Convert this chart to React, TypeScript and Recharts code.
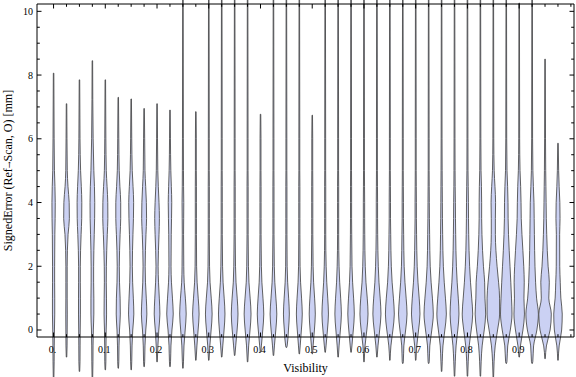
import { ComposedChart, Bar, XAxis, YAxis, Curve } from "recharts";

// violin positions (Visibility) and the range of each sample
const visibility = [
  0, 0.025, 0.05, 0.075, 0.1, 0.125, 0.15, 0.175, 0.2, 0.225,
  0.25, 0.275, 0.3, 0.325, 0.35, 0.375, 0.4, 0.425, 0.45, 0.475,
  0.5, 0.525, 0.55, 0.575, 0.6, 0.625, 0.65, 0.675, 0.7, 0.725,
  0.75, 0.775, 0.8, 0.825, 0.85, 0.875, 0.9, 0.925, 0.95, 0.975,
];

const errMin = [
  -1.6, -0.85, -1.3, -1.6, -1.25, -1.2, -1.25, -1.15, -1.0, -1.15,
  -1.2, -0.95, -0.95, -0.85, -0.8, -1.0, -0.7, -0.8, -0.55, -0.75,
  -0.75, -0.7, -0.85, -0.7, -1.0, -0.85, -0.95, -1.05, -0.95, -1.05,
  -1.3, -1.45, -1.45, -1.45, -1.5, -1.05, -0.85, -1.05, -0.9, -0.95,
];

const errMax = [
  8.06, 7.1, 7.85, 8.45, 7.85, 7.3, 7.25, 6.95, 7.1, 6.9,
  11, 6.85, 11, 11, 11, 11, 6.77, 11, 11, 11,
  6.74, 11, 11, 11, 11, 11, 11, 11, 11, 11,
  11, 11, 11, 11, 11, 11, 10.26, 11, 8.5, 5.86,
];

// density (violin half width) sampled at these error levels
const densityLevels = [-1, -0.5, 0, 0.5, 1, 1.5, 2, 3, 3.5, 4, 4.5, 5, 6];

const density = [
  [0.3, 0.4, 0.6, 0.9, 0.9, 0.8, 0.8, 1.0, 1.3, 1.4, 1.1, 0.6, 0.3],
  [0.2, 0.3, 0.4, 0.5, 0.4, 0.4, 0.4, 1.3, 2.6, 2.4, 1.2, 0.5, 0.2],
  [0.3, 0.4, 0.5, 0.7, 0.7, 0.6, 0.6, 1.4, 2.0, 2.1, 1.6, 0.9, 0.3],
  [0.3, 0.4, 0.7, 1.2, 1.2, 1.0, 1.0, 1.6, 2.0, 2.1, 1.8, 1.2, 0.5],
  [0.3, 0.4, 0.6, 1.0, 0.9, 0.7, 0.8, 1.7, 2.3, 2.2, 1.5, 0.7, 0.3],
  [0.3, 0.5, 1.0, 1.8, 1.6, 1.0, 0.8, 1.6, 2.2, 2.2, 1.4, 0.7, 0.3],
  [0.3, 0.6, 1.3, 2.4, 1.9, 1.2, 0.9, 1.5, 2.0, 2.2, 1.6, 0.8, 0.3],
  [0.3, 0.6, 1.4, 2.5, 1.9, 1.1, 0.8, 1.6, 2.2, 2.0, 1.3, 0.6, 0.3],
  [0.3, 0.6, 1.5, 2.6, 2.0, 1.2, 0.8, 1.7, 2.1, 1.7, 1.0, 0.5, 0.2],
  [0.3, 0.7, 1.7, 3.0, 2.2, 1.2, 0.8, 1.0, 1.3, 1.5, 1.1, 0.6, 0.2],
  [0.3, 0.8, 2.0, 3.0, 2.2, 1.0, 0.6, 0.4, 0.5, 0.6, 0.4, 0.3, 0.2],
  [0.3, 0.8, 2.0, 3.0, 2.1, 1.0, 0.5, 0.3, 0.3, 0.3, 0.3, 0.2, 0.2],
  [0.3, 0.8, 2.1, 3.1, 2.2, 1.0, 0.5, 0.3, 0.3, 0.3, 0.3, 0.2, 0.2],
  [0.3, 0.8, 2.1, 3.0, 2.2, 1.1, 0.6, 0.3, 0.3, 0.3, 0.3, 0.2, 0.2],
  [0.3, 0.8, 2.2, 3.1, 2.3, 1.1, 0.6, 0.3, 0.3, 0.3, 0.3, 0.2, 0.2],
  [0.3, 0.8, 2.2, 3.2, 2.3, 1.1, 0.6, 0.3, 0.3, 0.3, 0.3, 0.2, 0.2],
  [0.2, 0.6, 2.0, 3.0, 2.2, 1.1, 0.6, 0.3, 0.3, 0.3, 0.3, 0.2, 0.2],
  [0.2, 0.7, 2.1, 3.1, 2.2, 1.1, 0.6, 0.3, 0.3, 0.3, 0.3, 0.2, 0.2],
  [0.2, 0.5, 1.8, 2.7, 2.0, 1.0, 0.5, 0.3, 0.3, 0.3, 0.3, 0.2, 0.2],
  [0.2, 0.6, 1.8, 2.7, 2.0, 1.0, 0.5, 0.3, 0.3, 0.3, 0.3, 0.2, 0.2],
  [0.2, 0.6, 1.9, 2.8, 2.1, 1.1, 0.6, 0.3, 0.3, 0.3, 0.3, 0.2, 0.2],
  [0.2, 0.6, 2.0, 3.0, 2.3, 1.3, 0.7, 0.3, 0.3, 0.3, 0.3, 0.2, 0.2],
  [0.3, 0.7, 2.0, 3.0, 2.3, 1.3, 0.7, 0.3, 0.3, 0.3, 0.3, 0.2, 0.2],
  [0.2, 0.6, 2.0, 3.0, 2.3, 1.3, 0.7, 0.4, 0.3, 0.3, 0.3, 0.2, 0.2],
  [0.3, 0.8, 2.6, 3.8, 3.0, 1.7, 1.0, 0.5, 0.4, 0.4, 0.3, 0.2, 0.2],
  [0.3, 0.8, 2.5, 3.8, 3.0, 1.8, 1.1, 0.5, 0.4, 0.4, 0.3, 0.2, 0.2],
  [0.3, 0.8, 2.8, 4.2, 3.3, 2.0, 1.2, 0.6, 0.4, 0.4, 0.3, 0.2, 0.2],
  [0.3, 0.8, 2.6, 4.0, 3.1, 1.9, 1.1, 0.6, 0.4, 0.4, 0.3, 0.2, 0.2],
  [0.3, 0.8, 2.6, 4.0, 3.2, 2.0, 1.2, 0.6, 0.4, 0.4, 0.3, 0.2, 0.2],
  [0.3, 0.9, 2.9, 4.4, 3.5, 2.2, 1.3, 0.7, 0.5, 0.4, 0.3, 0.2, 0.2],
  [0.4, 1.1, 3.0, 4.5, 3.6, 2.4, 1.5, 0.8, 0.6, 0.5, 0.4, 0.3, 0.2],
  [0.5, 1.3, 3.0, 4.2, 3.5, 2.4, 1.6, 0.9, 0.7, 0.6, 0.4, 0.3, 0.2],
  [0.5, 1.5, 3.5, 5.0, 4.0, 2.8, 1.9, 1.0, 0.8, 0.7, 0.5, 0.3, 0.2],
  [0.5, 1.5, 3.6, 5.0, 4.3, 4.0, 2.8, 1.3, 1.0, 1.0, 0.8, 0.4, 0.2],
  [0.5, 1.6, 4.0, 6.0, 6.0, 5.0, 3.5, 1.8, 1.8, 2.0, 1.4, 0.6, 0.2],
  [0.4, 1.2, 3.8, 5.5, 5.0, 4.3, 3.5, 2.0, 1.6, 1.5, 1.1, 0.5, 0.2],
  [0.3, 1.0, 3.5, 5.0, 4.5, 4.8, 4.3, 2.5, 1.8, 1.6, 1.2, 0.6, 0.2],
  [0.4, 1.2, 4.5, 6.0, 4.2, 3.2, 2.6, 2.0, 1.8, 1.6, 1.0, 0.5, 0.2],
  [0.3, 1.1, 4.8, 6.0, 3.5, 4.0, 2.8, 1.4, 1.0, 0.8, 0.6, 0.4, 0.2],
  [0.3, 0.9, 3.4, 4.0, 2.6, 2.0, 1.5, 1.4, 1.8, 1.6, 0.9, 0.4, 0.2],
];

const xMajor = [0, 0.1, 0.2, 0.3, 0.4, 0.5, 0.6, 0.7, 0.8, 0.9];
const xMajorLabels = ["0.", "0.1", "0.2", "0.3", "0.4", "0.5", "0.6", "0.7", "0.8", "0.9"];
const xTicks = [...visibility, 1];
const yTicks = [0, 0.5, 1, 1.5, 2, 2.5, 3, 3.5, 4, 4.5, 5, 5.5, 6, 6.5, 7, 7.5, 8, 8.5, 9, 9.5, 10];
const yMajor = [0, 2, 4, 6, 8, 10];

const X_DOMAIN: [number, number] = [-0.032, 1.006];
const Y_DOMAIN: [number, number] = [-0.22, 10.23];
const FONT = "'Liberation Serif', 'Times New Roman', serif";

const rows = visibility.map((v, i) => ({
  v,
  lo: errMin[i],
  hi: errMax[i],
  dens: density[i],
}));

const visibleRange = (d: any) => [Math.max(d.lo, Y_DOMAIN[0]), Math.min(d.hi, Y_DOMAIN[1])];

const findMajor = (list: number[], v: number) =>
  list.findIndex((m) => Math.abs(m - v) < 1e-6);

function Violin(props: any) {
  const { x, y, width, height, payload } = props;
  if (!payload || !height) return null;
  const top = Math.min(payload.hi, Y_DOMAIN[1]);
  const bot = Math.max(payload.lo, Y_DOMAIN[0]);
  const pxPerUnit = height / (top - bot);
  const toY = (val: number) => y + (top - val) * pxPerUnit;
  const cx = x + width / 2;
  const unit = width / 13;

  const prof: { val: number; d: number }[] = [{ val: payload.hi, d: 0 }];
  for (let k = densityLevels.length - 1; k >= 0; k--) {
    const lv = densityLevels[k];
    if (lv < payload.hi && lv > payload.lo) prof.push({ val: lv, d: payload.dens[k] });
  }
  prof.push({ val: payload.lo, d: 0 });

  const right = prof.map((p) => ({ x: cx + p.d * unit + 0.25, y: toY(p.val) }));
  const left = prof.map((p) => ({ x: cx - p.d * unit - 0.25, y: toY(p.val) }));

  return (
    <Curve
      type="monotone"
      layout="vertical"
      points={right}
      baseLine={left}
      fill="#cbd1f3"
      stroke="#474747"
      strokeOpacity={0.85}
      strokeWidth={1}
    />
  );
}

function BottomTick(props: any) {
  const { x, y, payload } = props;
  const i = findMajor(xMajor, payload.value);
  return (
    <g>
      <line x1={x} x2={x} y1={y} y2={y - (i >= 0 ? 4.5 : 2.8)} stroke="#000" />
      {i >= 0 && (
        <text x={x - 1} y={y + 16} textAnchor="middle" fontSize={10} fontFamily={FONT} fill="#000">
          {xMajorLabels[i]}
        </text>
      )}
    </g>
  );
}

function TopTick(props: any) {
  const { x, y, payload } = props;
  const i = findMajor(xMajor, payload.value);
  return <line x1={x} x2={x} y1={y} y2={y + (i >= 0 ? 4.5 : 2.8)} stroke="#000" />;
}

function LeftTick(props: any) {
  const { x, y, payload } = props;
  const i = findMajor(yMajor, payload.value);
  return (
    <g>
      <line x1={x} x2={x + (i >= 0 ? 4.5 : 2.8)} y1={y} y2={y} stroke="#000" />
      {i >= 0 && (
        <text x={x - 4} y={y + 3.5} textAnchor="end" fontSize={10} fontFamily={FONT} fill="#000">
          {payload.value}
        </text>
      )}
    </g>
  );
}

function RightTick(props: any) {
  const { x, y, payload } = props;
  const i = findMajor(yMajor, payload.value);
  return <line x1={x} x2={x - (i >= 0 ? 4.5 : 2.8)} y1={y} y2={y} stroke="#000" />;
}

export default function App() {
  return (
    <div style={{ position: "absolute", left: 0, top: 0, width: 576, height: 377, background: "#fff" }}>
      <ComposedChart
        width={576}
        height={377}
        data={rows}
        margin={{ top: 3, right: 1, bottom: 0, left: 0 }}
        barCategoryGap={0}
      >
        <XAxis
          xAxisId="b"
          dataKey="v"
          type="number"
          domain={X_DOMAIN}
          ticks={xTicks}
          interval={0}
          height={40}
          tickSize={0}
          tickMargin={0}
          tickLine={false}
          tick={BottomTick}
          axisLine={{ stroke: "#000" }}
          label={(p: any) => {
            const vb = p.viewBox;
            return (
              <text x={vb.x + vb.width / 2} y={vb.y + 35} textAnchor="middle" fontSize={12} fontFamily={FONT} fill="#000">
                Visibility
              </text>
            );
          }}
        />
        <XAxis
          xAxisId="t"
          dataKey="v"
          orientation="top"
          type="number"
          domain={X_DOMAIN}
          ticks={xTicks}
          interval={0}
          height={1}
          tickSize={0}
          tickMargin={0}
          tickLine={false}
          tick={TopTick}
          axisLine={{ stroke: "#000" }}
        />
        <YAxis
          yAxisId="l"
          type="number"
          domain={Y_DOMAIN}
          ticks={yTicks}
          interval={0}
          width={37}
          tickSize={0}
          tickMargin={0}
          tickLine={false}
          tick={LeftTick}
          axisLine={{ stroke: "#000" }}
          label={(p: any) => {
            const vb = p.viewBox;
            const cy = vb.y + vb.height / 2;
            return (
              <text
                x={12}
                y={cy}
                transform={`rotate(-90, 12, ${cy})`}
                textAnchor="middle"
                fontSize={12}
                fontFamily={FONT}
                fill="#000"
              >
                SignedError (Ref<tspan fontFamily="'DejaVu Serif'" fontSize={8}>→</tspan>Scan, O) [mm]
              </text>
            );
          }}
        />
        <YAxis
          yAxisId="r"
          orientation="right"
          type="number"
          domain={Y_DOMAIN}
          ticks={yTicks}
          interval={0}
          width={1}
          tickSize={0}
          tickMargin={0}
          tickLine={false}
          tick={RightTick}
          axisLine={{ stroke: "#000" }}
        />
        {/* invisible copy so the mirrored frame axes get a domain */}
        <Bar
          xAxisId="t"
          yAxisId="r"
          dataKey={visibleRange}
          shape={() => null}
          isAnimationActive={false}
        />
        <Bar
          xAxisId="b"
          yAxisId="l"
          dataKey={visibleRange}
          shape={(p: any) => <Violin {...p} />}
          isAnimationActive={false}
        />
      </ComposedChart>
    </div>
  );
}
